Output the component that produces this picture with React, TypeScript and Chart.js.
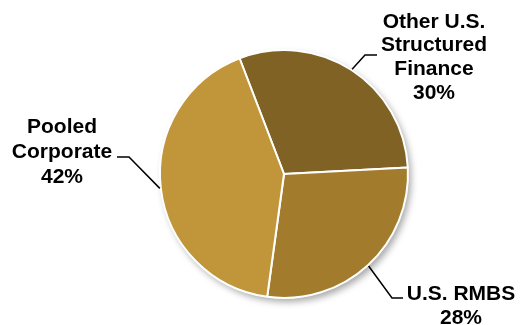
import React, { useEffect, useRef } from "react";
import { Chart, registerables } from "chart.js";

Chart.register(...registerables);

const categories = ["Other U.S. Structured Finance", "U.S. RMBS", "Pooled Corporate"];
const values = [30, 28, 42];
const labelLines = [
  ["Other U.S.", "Structured", "Finance", "30%"],
  ["U.S. RMBS", "28%"],
  ["Pooled", "Corporate", "42%"],
];
const colors = ["#7f6224", "#a27c2c", "#c1963a"];

// label layout: elbow point, end of horizontal segment, text center x, baselines
const labelLayout = [
  { elbow: [365, 55], end: [377, 55], tx: 434, base: [28, 51, 75, 99] },
  { elbow: [392, 298], end: [403, 298], tx: 461, base: [300, 324] },
  { elbow: [129, 157], end: [117, 157], tx: 62, base: [133, 158, 183] },
];

const shadowPlugin = {
  id: "pieShadow",
  beforeDatasetsDraw(chart: any) {
    const meta = chart.getDatasetMeta(0);
    const arc = meta.data[0];
    if (!arc) return;
    const { x, y, outerRadius } = arc.getProps(["x", "y", "outerRadius"], true);
    const ctx = chart.ctx;
    ctx.save();
    ctx.shadowColor = "rgba(0,0,0,0.35)";
    ctx.shadowBlur = 7;
    ctx.shadowOffsetX = 3;
    ctx.shadowOffsetY = 4;
    ctx.beginPath();
    ctx.arc(x, y, outerRadius, 0, Math.PI * 2);
    ctx.fillStyle = "#ffffff";
    ctx.fill();
    ctx.restore();
  },
};

const labelPlugin = {
  id: "leaderLabels",
  afterDraw(chart: any) {
    const ctx = chart.ctx;
    const meta = chart.getDatasetMeta(0);
    ctx.save();
    meta.data.forEach((arc: any, i: number) => {
      const { x, y, startAngle, endAngle, outerRadius } = arc.getProps(
        ["x", "y", "startAngle", "endAngle", "outerRadius"],
        true
      );
      const mid = (startAngle + endAngle) / 2;
      const px = x + Math.cos(mid) * (outerRadius + 1);
      const py = y + Math.sin(mid) * (outerRadius + 1);
      const L = labelLayout[i];
      ctx.beginPath();
      ctx.moveTo(px, py);
      ctx.lineTo(L.elbow[0], L.elbow[1]);
      ctx.lineTo(L.end[0], L.end[1]);
      ctx.strokeStyle = "#000";
      ctx.lineWidth = 1.5;
      ctx.stroke();
      ctx.fillStyle = "#000";
      ctx.font = "bold 21px 'Liberation Sans', Arial, sans-serif";
      ctx.textAlign = "center";
      ctx.textBaseline = "alphabetic";
      labelLines[i].forEach((t, j) => {
        ctx.fillText(t, L.tx, L.base[j]);
      });
    });
    ctx.restore();
  },
};

export default function App() {
  const ref = useRef<HTMLCanvasElement | null>(null);
  useEffect(() => {
    if (!ref.current) return;
    const chart = new Chart(ref.current, {
      type: "pie",
      data: {
        labels: categories,
        datasets: [
          {
            data: values,
            backgroundColor: colors,
            borderColor: "#ffffff",
            borderWidth: 2,
          },
        ],
      },
      options: {
        responsive: false,
        animation: false,
        rotation: -21,
        layout: { padding: { left: 159, top: 49, right: 111, bottom: 26 } },
        plugins: {
          legend: { display: false },
          tooltip: { enabled: false },
        },
      },
      plugins: [shadowPlugin, labelPlugin],
    });
    return () => chart.destroy();
  }, []);
  return (
    <div style={{ position: "absolute", left: 0, top: 0, width: 520, height: 325, background: "#fff" }}>
      <canvas ref={ref} width={520} height={325} style={{ display: "block" }} />
    </div>
  );
}
